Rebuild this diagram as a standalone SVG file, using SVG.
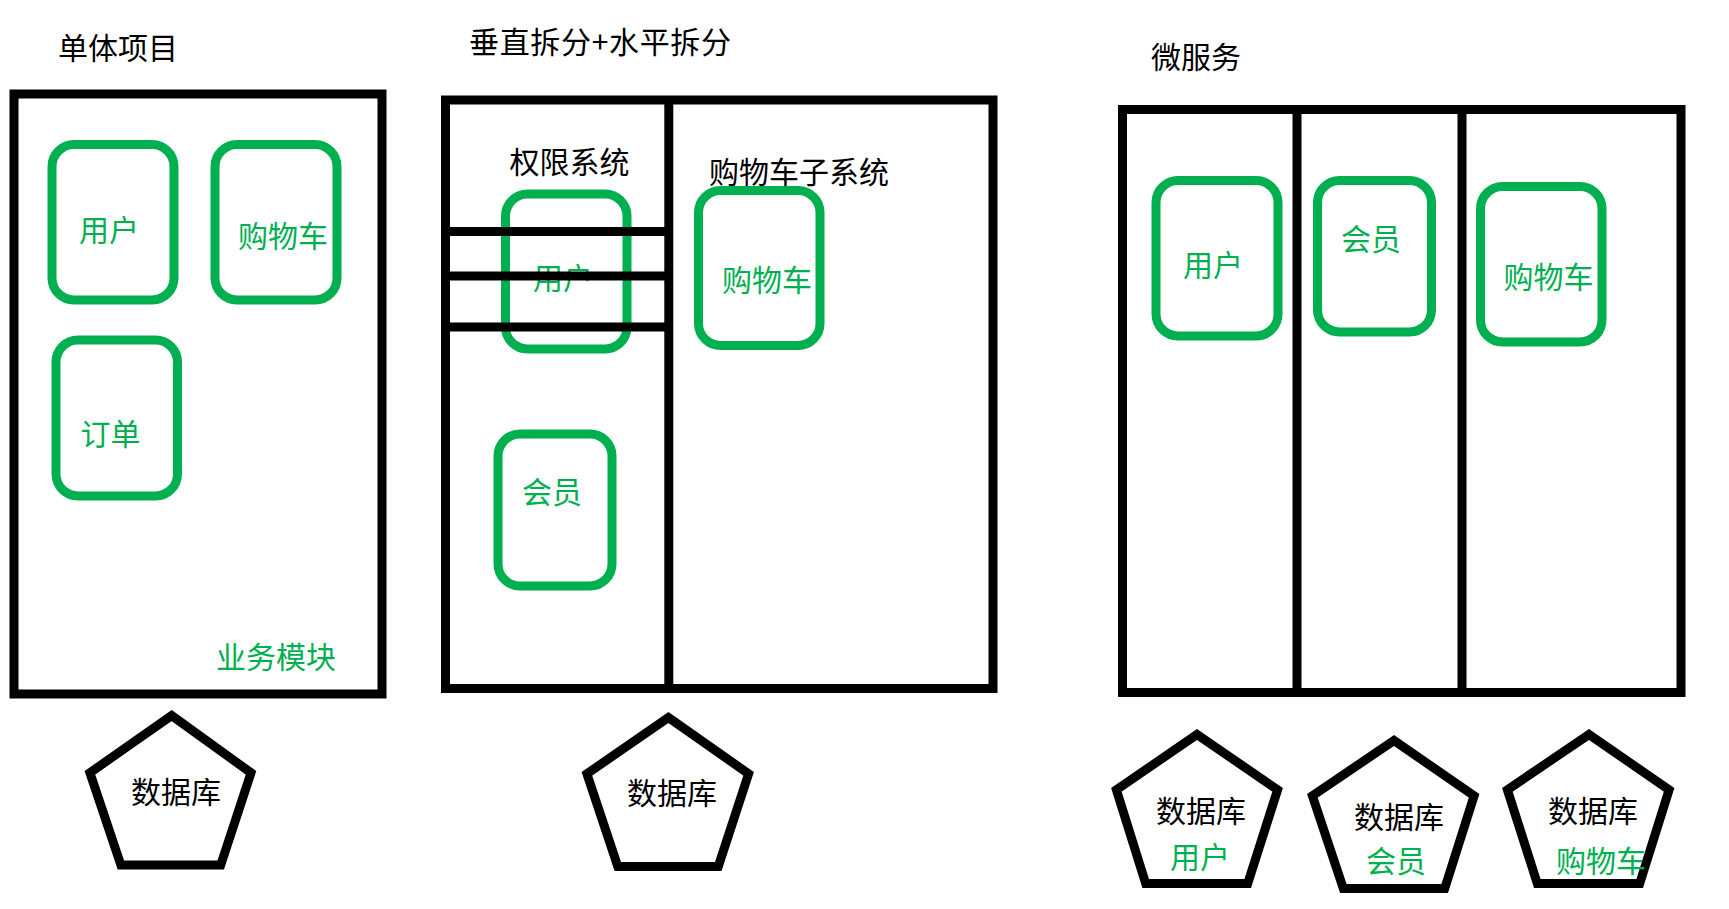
<svg xmlns="http://www.w3.org/2000/svg" width="1729" height="909" viewBox="0 0 1729 909">
<style>
text{font-family:"Noto Sans CJK SC","Liberation Sans",sans-serif;font-size:30px;fill:#000}
.g{fill:#00B050}
.panel{fill:none;stroke:#000;stroke-width:9}
.mod{fill:none;stroke:#00B050;stroke-width:9}
.db{fill:none;stroke:#000;stroke-width:9;stroke-linejoin:miter}
.div{stroke:#000;stroke-width:9;fill:none}
</style>
<rect width="1729" height="909" fill="#fff"/>
<g id="titles">
<text x="58" y="59">单体项目</text>
<text x="469" y="53" textLength="262">垂直拆分+水平拆分</text>
<text x="1151" y="68">微服务</text>
</g>
<g id="panel-monolith"><rect class="panel" x="14" y="94" width="368" height="600"/><text class="g" x="216" y="668">业务模块</text></g>
<g id="panel-split"><rect class="panel" x="445.5" y="100" width="547.5" height="588.5"/><text x="509.5" y="173">权限系统</text><text x="709" y="183">购物车子系统</text></g>
<g id="panel-micro"><rect class="panel" x="1122.5" y="109.5" width="558.5" height="583"/></g>
<g id="m1-user"><rect class="mod" x="52" y="144.5" width="122" height="155.5" rx="22"/><text class="g" x="79" y="241">用户</text></g>
<g id="m1-cart"><rect class="mod" x="215" y="144.5" width="122" height="155.5" rx="22"/><text class="g" x="238" y="247">购物车</text></g>
<g id="m1-order"><rect class="mod" x="56" y="340" width="121.5" height="156" rx="22"/><text class="g" x="80.5" y="445">订单</text></g>
<g id="m2-user"><rect class="mod" x="505.5" y="194" width="121.5" height="155" rx="22"/><text class="g" x="533" y="289">用户</text></g>
<g id="m2-member"><rect class="mod" x="498" y="434" width="114" height="152" rx="22"/><text class="g" x="522" y="503">会员</text></g>
<g id="m2-cart"><rect class="mod" x="698.5" y="190.5" width="121.5" height="155" rx="22"/><text class="g" x="722" y="291">购物车</text></g>
<g id="m3-user"><rect class="mod" x="1156" y="180.5" width="122" height="155.5" rx="22"/><text class="g" x="1183" y="276">用户</text></g>
<g id="m3-member"><rect class="mod" x="1317.5" y="180.5" width="114" height="151.5" rx="22"/><text class="g" x="1341" y="250">会员</text></g>
<g id="m3-cart"><rect class="mod" x="1480.5" y="186.5" width="121.5" height="155.5" rx="22"/><text class="g" x="1503.5" y="288">购物车</text></g>
<g id="db1"><polygon class="db" points="171.6,715.5 251,772.8 220.7,865.1 120.9,865.1 89.9,772.8"/><text x="131" y="803">数据库</text></g>
<g id="db2"><polygon class="db" points="668.4,717.5 748.6,773.8 718.3,866.5 617.8,866.5 586.9,773.8"/><text x="627" y="804">数据库</text></g>
<g id="db3"><polygon class="db" points="1197,734.5 1277.6,789.8 1247.7,883.5 1145.7,883.5 1116.4,789.8"/><text x="1156" y="822">数据库</text><text class="g" x="1170" y="868">用户</text></g>
<g id="db4"><polygon class="db" points="1394,740.5 1474.1,795.8 1444.7,888.5 1343.3,888.5 1312.4,795.8"/><text x="1354" y="828">数据库</text><text class="g" x="1366" y="872">会员</text></g>
<g id="db5"><polygon class="db" points="1589,734.5 1669.1,789.8 1639.7,883.5 1537.3,883.5 1507.4,789.8"/><text x="1548" y="822">数据库</text><text class="g" x="1556" y="872">购物车</text></g>
<g id="connectors">
<line class="div" x1="450" y1="231.5" x2="669" y2="231.5"/>
<line class="div" x1="450" y1="276" x2="669" y2="276"/>
<line class="div" x1="450" y1="327" x2="669" y2="327"/>
<line class="div" x1="668.8" y1="100" x2="668.8" y2="688"/>
<line class="div" x1="1297" y1="109" x2="1297" y2="692"/>
<line class="div" x1="1462" y1="109" x2="1462" y2="692"/>
</g>
</svg>
